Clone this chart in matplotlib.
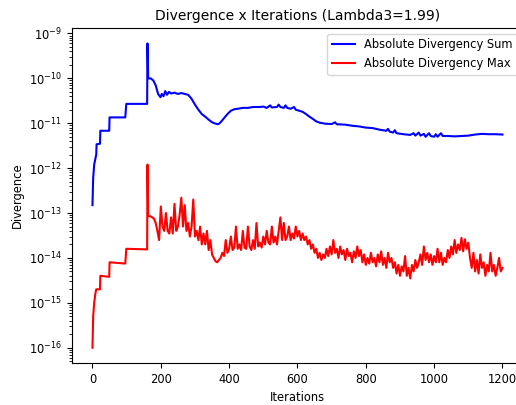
import numpy as np
import matplotlib
matplotlib.use('Agg')
import matplotlib.pyplot as plt
from matplotlib.ticker import LogLocator, NullFormatter

# blue series: absolute divergency sum (values in units of 1e-11)
sum_x = [0, 2, 5, 9, 11, 12, 22, 23, 49, 50, 96, 99, 160, 161, 163, 170, 178, 185,
	192, 199, 203, 208, 213, 218, 224, 230, 240, 250, 260, 270, 280, 290, 300,
	310, 320, 330, 340, 350, 360, 368, 375, 385, 395, 405, 415, 425, 440, 455,
	470, 490, 500, 510, 520, 525, 540, 545, 550, 560, 565, 570, 580, 590, 595,
	605, 615, 625, 635, 645, 655, 665, 680, 700, 710, 715, 740, 760, 780, 800,
	820, 840, 860, 865, 870, 880, 885, 890, 910, 930, 940, 945, 955, 960, 970,
	975, 985, 990, 1000, 1005, 1010, 1020, 1025, 1040, 1060, 1080, 1100, 1120,
	1140, 1160, 1180, 1200]
sum_e11 = [0.015, 0.06, 0.12, 0.17, 0.2, 0.34, 0.35, 0.68, 0.68, 1.35, 1.35, 2.7, 2.7, 60, 10, 10, 9, 7,
	4.5, 3.8, 4.5, 4.0, 5.2, 4.3, 5.0, 4.6, 4.8, 4.5, 4.7, 4.5, 4.3, 3.5, 2.6,
	2.0, 1.6, 1.4, 1.2, 1.05, 0.98, 0.95, 1.05, 1.3, 1.6, 1.9, 2.05, 2.1, 2.2, 2.2,
	2.3, 2.3, 2.35, 2.2, 2.5, 2.25, 2.3, 2.6, 2.3, 2.2, 2.5, 2.2, 2.1, 2.3, 2.0,
	1.9, 1.8, 1.6, 1.4, 1.25, 1.1, 1.03, 0.98, 0.96, 1.05, 0.95, 0.93, 0.88, 0.85, 0.8,
	0.78, 0.72, 0.68, 0.75, 0.65, 0.62, 0.7, 0.6, 0.57, 0.55, 0.6, 0.53, 0.62, 0.53, 0.58,
	0.5, 0.6, 0.52, 0.5, 0.57, 0.5, 0.6, 0.52, 0.52, 0.51, 0.52, 0.53, 0.56,
	0.58, 0.57, 0.57, 0.56]

# red series: absolute divergency max (values in units of 1e-14)
max_x_start = [0, 2, 5, 9, 11, 22, 23, 49, 50, 96, 99, 160, 161, 163]
max_start_e14 = [0.01, 0.05, 0.1, 0.17, 0.2, 0.2, 0.4, 0.38, 0.8, 0.75, 1.6, 1.55, 120, 8.5]
max_x_noise = np.arange(170, 1201, 5)
max_noise_e14 = [
	8.5, 8.0, 7.5, 6.0, 4.0, 2.5, 14, 5, 4, 10,
	4, 3.5, 8, 3.5, 16, 4, 5, 9, 22, 5,
	15, 4, 6, 3, 5, 20, 3, 4, 2.5, 5,
	2, 3.5, 2, 4, 1.5, 2.5, 1.2, 1.0, 0.85, 0.8,
	0.9, 1.0, 1.3, 1.1, 2.5, 1.3, 1.6, 3, 1.5, 1.7,
	5, 1.6, 2, 1.5, 4, 1.7, 1.6, 5, 1.8, 1.5,
	2.5, 1.6, 6, 1.8, 2.2, 1.7, 3, 2, 4, 2.2,
	2, 5, 2.2, 3, 2, 4, 8, 2.5, 6, 2.5,
	3, 5, 2.5, 3.5, 2.7, 5, 3, 4, 2.5, 3.5,
	2.5, 3, 2, 2.5, 1.6, 2, 1.3, 1.6, 1.0, 1.3,
	0.9, 1.2, 1.0, 1.6, 1.1, 1.8, 1.2, 2.5, 1.3, 1.6,
	1.0, 1.8, 1.2, 1.5, 0.9, 1.6, 1.1, 1.3, 0.8, 1.4,
	1.0, 1.8, 1.1, 1.5, 0.8, 1.2, 0.7, 1.0, 0.75, 1.3,
	0.8, 1.0, 0.65, 1.2, 0.8, 1.4, 0.7, 1.0, 0.6, 1.3,
	0.8, 1.0, 0.6, 0.8, 0.45, 0.7, 0.4, 0.65, 0.5, 1.1,
	0.4, 0.6, 0.35, 0.7, 0.5, 0.9, 0.6, 0.8, 1.2, 0.7,
	1.8, 0.9, 1.3, 0.8, 1.2, 0.7, 1.1, 0.8, 1.6, 0.8,
	1.3, 0.7, 1.0, 0.8, 1.5, 1.0, 1.8, 1.2, 2.5, 1.3,
	2.0, 1.5, 2.8, 1.4, 2.6, 1.6, 2.2, 1.0, 0.6, 1.3,
	0.5, 0.9, 0.45, 1.2, 0.6, 0.8, 0.4, 0.7, 0.5, 1.3,
	0.5, 0.7, 0.4, 0.6, 1.0, 0.5, 0.6]

sum_vals = np.array(sum_e11) * 1e-11
max_x = np.concatenate([max_x_start, max_x_noise])
max_vals = np.concatenate([max_start_e14, max_noise_e14]) * 1e-14

fig = plt.figure(figsize=(5.16, 4.05), dpi=100)
ax = fig.add_axes([0.1395, 0.1037, 0.874, 0.827])
ax.plot(sum_x, sum_vals, color='blue', lw=1.5, label='Absolute Divergency Sum')
ax.plot(max_x, max_vals, color='red', lw=1.5, label='Absolute Divergency Max')
ax.set_yscale('log')
ax.set_xlim(-60, 1260)
ax.set_ylim(10**-16.34, 10**-8.88)
ax.yaxis.set_major_locator(LogLocator(base=10, numticks=20))
ax.yaxis.set_minor_locator(LogLocator(base=10, subs=np.arange(2, 10), numticks=20))
ax.yaxis.set_minor_formatter(NullFormatter())
ax.set_xticks([0, 200, 400, 600, 800, 1000, 1200])
ax.tick_params(labelsize=8.3)
ax.set_title('Divergence x Iterations (Lambda3=1.99)', fontsize=10)
ax.set_xlabel('Iterations', fontsize=8.3)
ax.set_ylabel('Divergence', fontsize=8.3)
ax.legend(loc='upper right', fontsize=8.3)

fig.savefig('out.png', dpi=100)
